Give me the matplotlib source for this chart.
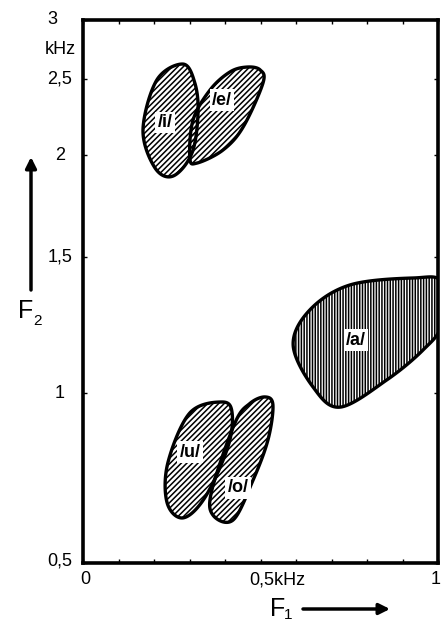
import numpy as np
import matplotlib
matplotlib.use("Agg")
import matplotlib.pyplot as plt
from matplotlib.patches import Polygon, FancyArrowPatch

plt.rcParams['font.family'] = ['Liberation Sans', 'DejaVu Sans']
plt.rcParams['hatch.linewidth'] = 1.1

# F2 axis: tick values (kHz) and their height along the axis (hand-drawn scale)
F2_TICKS = [0.5, 1.0, 1.5, 2.0, 2.5, 3.0]
F2_HEIGHT = [0, 170, 306, 408, 484, 543]
F2_LABELS = ['0,5', '1', '1,5', '2', '2,5', '3']
F1_TICKS = np.arange(0, 1.01, 0.1)

# formant regions, outline points (F1 kHz, F2 kHz)
i_f1 = [0.282, 0.315, 0.324, 0.307, 0.254, 0.203, 0.169, 0.208]
i_f2 = [2.618, 2.471, 2.262, 2.012, 1.885, 1.928, 2.152, 2.493]

e_f1 = [0.462, 0.499, 0.507, 0.451, 0.394, 0.321, 0.301, 0.310, 0.358, 0.414]
e_f2 = [2.594, 2.571, 2.471, 2.171, 2.029, 1.955, 1.983, 2.216, 2.421, 2.555]

a_f1 = [0.930, 1.010, 1.010, 0.958, 0.856, 0.724, 0.648, 0.592, 0.639, 0.752]
a_f2 = [1.409, 1.392, 1.225, 1.137, 1.040, 0.944, 1.018, 1.154, 1.281, 1.380]

u_f1 = [0.392, 0.420, 0.408, 0.344, 0.282, 0.237, 0.239, 0.301]
u_f2 = [0.964, 0.922, 0.802, 0.654, 0.601, 0.639, 0.752, 0.922]

o_f1 = [0.513, 0.535, 0.521, 0.479, 0.423, 0.366, 0.363, 0.428, 0.470]
o_f2 = [0.984, 0.952, 0.826, 0.701, 0.596, 0.608, 0.673, 0.885, 0.958]

vowels = ['/i/', '/e/', '/a/', '/u/', '/o/']
label_f1 = [0.231, 0.392, 0.769, 0.301, 0.437]
label_f2 = [2.20, 2.35, 1.171, 0.786, 0.679]


def fwd(f):
    f = np.clip(np.asarray(f, dtype=float), 1e-6, None)
    return np.interp(np.log(f), np.log(F2_TICKS), F2_HEIGHT)


def inv(h):
    return np.exp(np.interp(h, F2_HEIGHT, np.log(F2_TICKS)))


def smooth_closed(x, y, n=30):
    # closed Catmull-Rom curve through the outline points
    pts = np.column_stack([x, y])
    P = np.vstack([pts[-1], pts, pts[0], pts[1]])
    t = np.linspace(0, 1, n, endpoint=False)[:, None]
    segs = []
    for k in range(1, len(pts) + 1):
        p0, p1, p2, p3 = P[k - 1], P[k], P[k + 1], P[k + 2]
        segs.append(0.5 * (2 * p1 + (p2 - p0) * t
                           + (2 * p0 - 5 * p1 + 4 * p2 - p3) * t ** 2
                           + (3 * p1 - p0 - 3 * p2 + p3) * t ** 3))
    return np.vstack(segs)


def region(ax, f1, f2, hatch):
    xs = np.asarray(f1) * 355
    ys = fwd(f2)
    c = smooth_closed(xs, ys)
    verts = np.column_stack([c[:, 0] / 355, inv(c[:, 1])])
    ax.add_patch(Polygon(verts, closed=True, facecolor='none', edgecolor='black',
                         hatch=hatch, lw=2.4, zorder=2))


fig = plt.figure(figsize=(4.42, 6.23), dpi=100)
ax = fig.add_axes([83 / 442, 60 / 623, 355 / 442, 543 / 623])
ax.set_yscale('function', functions=(fwd, inv))
ax.set_xlim(0, 1)
ax.set_ylim(0.5, 3)

region(ax, i_f1, i_f2, '//////')
region(ax, e_f1, e_f2, '//////')
region(ax, a_f1, a_f2, '||||||')
region(ax, u_f1, u_f2, '//////')
region(ax, o_f1, o_f2, '//////')

for name, x, y in zip(vowels, label_f1, label_f2):
    ax.text(x, y, name, ha='center', va='center', fontsize=13, fontweight='bold',
            bbox=dict(facecolor='white', edgecolor='none', pad=1.5), zorder=3)

for s in ax.spines.values():
    s.set_linewidth(2.6)
ax.set_xticks(F1_TICKS)
ax.set_yticks(F2_TICKS)
ax.tick_params(direction='in', length=3, width=1, top=True, right=True,
               labelbottom=False, labelleft=False)

# tick labels
ytr = ax.get_yaxis_transform()
for v, lab in zip(F2_TICKS, F2_LABELS):
    xp = -0.087 if lab == '3' else -0.065
    yv = 0.505 if lab == '0,5' else v
    ax.text(xp, yv, lab, transform=ytr, ha='center', va='center', fontsize=13)
ax.text(-0.065, 2.735, 'kHz', transform=ytr, ha='center', va='center', fontsize=13)

xtr = ax.get_xaxis_transform()
ax.text(0.006, -0.031, '0', transform=xtr, ha='center', va='center', fontsize=13)
ax.text(0.468, -0.031, '0,5kHz', transform=xtr, ha='left', va='center', fontsize=13)
ax.text(1.0085, -0.031, '1', transform=xtr, ha='right', va='center', fontsize=13,
        clip_on=False)

# axis names with arrows
fig.text(270 / 442, 1 - 609 / 623, 'F', ha='left', va='center', fontsize=18)
fig.text(284 / 442, 1 - 615 / 623, '1', ha='left', va='center', fontsize=11)
fig.text(18 / 442, 1 - 311 / 623, 'F', ha='left', va='center', fontsize=18)
fig.text(33 / 442, 1 - 321 / 623, '2', ha='left', va='center', fontsize=11)
arrow = dict(arrowstyle='-|>', lw=2.5, mutation_scale=16, color='black',
             shrinkA=0, shrinkB=0)
fig.add_artist(FancyArrowPatch((303 / 442, 1 - 609 / 623), (390 / 442, 1 - 609 / 623),
                               transform=fig.transFigure, **arrow))
fig.add_artist(FancyArrowPatch((31 / 442, 1 - 290 / 623), (31 / 442, 1 - 157 / 623),
                               transform=fig.transFigure, **arrow))

fig.savefig('out.png', dpi=100)
